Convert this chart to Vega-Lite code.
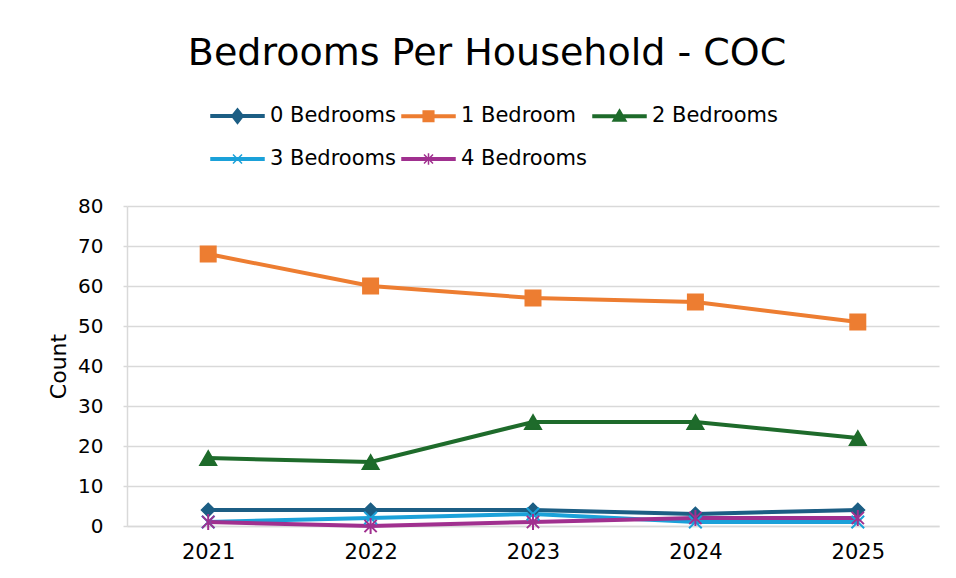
{
  "$schema": "https://vega.github.io/schema/vega-lite/v6.json",
  "width": 812,
  "height": 320,
  "autosize": {"type": "none"},
  "padding": {"left": 127, "top": 206, "right": 17, "bottom": 52},
  "background": "white",
  "title": {
    "text": "Bedrooms Per Household - COC",
    "font": "DejaVu Sans",
    "fontSize": 38,
    "fontWeight": "normal",
    "color": "#000000",
    "anchor": "middle",
    "dx": -46,
    "offset": 16
  },
  "data": {
    "values": [
      {"year": "2021", "series": "0 Bedrooms", "count": 4},
      {"year": "2022", "series": "0 Bedrooms", "count": 4},
      {"year": "2023", "series": "0 Bedrooms", "count": 4},
      {"year": "2024", "series": "0 Bedrooms", "count": 3},
      {"year": "2025", "series": "0 Bedrooms", "count": 4},
      {"year": "2021", "series": "1 Bedroom", "count": 68},
      {"year": "2022", "series": "1 Bedroom", "count": 60},
      {"year": "2023", "series": "1 Bedroom", "count": 57},
      {"year": "2024", "series": "1 Bedroom", "count": 56},
      {"year": "2025", "series": "1 Bedroom", "count": 51},
      {"year": "2021", "series": "2 Bedrooms", "count": 17},
      {"year": "2022", "series": "2 Bedrooms", "count": 16},
      {"year": "2023", "series": "2 Bedrooms", "count": 26},
      {"year": "2024", "series": "2 Bedrooms", "count": 26},
      {"year": "2025", "series": "2 Bedrooms", "count": 22},
      {"year": "2021", "series": "3 Bedrooms", "count": 1},
      {"year": "2022", "series": "3 Bedrooms", "count": 2},
      {"year": "2023", "series": "3 Bedrooms", "count": 3},
      {"year": "2024", "series": "3 Bedrooms", "count": 1},
      {"year": "2025", "series": "3 Bedrooms", "count": 1},
      {"year": "2021", "series": "4 Bedrooms", "count": 1},
      {"year": "2022", "series": "4 Bedrooms", "count": 0},
      {"year": "2023", "series": "4 Bedrooms", "count": 1},
      {"year": "2024", "series": "4 Bedrooms", "count": 2},
      {"year": "2025", "series": "4 Bedrooms", "count": 2}
    ]
  },
  "encoding": {
    "x": {
      "field": "year",
      "type": "ordinal",
      "scale": {"type": "point", "padding": 0.5},
      "axis": {
        "title": null,
        "labelAngle": 0,
        "labelFont": "DejaVu Sans",
        "labelFontSize": 21,
        "labelColor": "#000000",
        "labelPadding": 15,
        "ticks": false,
        "domainColor": "#d9d9d9",
        "domainWidth": 1.5,
        "grid": false
      }
    },
    "y": {
      "field": "count",
      "type": "quantitative",
      "scale": {"domain": [0, 80]},
      "axis": {
        "title": "Count",
        "titleFont": "DejaVu Sans",
        "titleFontSize": 22,
        "titleFontWeight": "normal",
        "titleColor": "#000000",
        "titlePadding": 7,
        "values": [0, 10, 20, 30, 40, 50, 60, 70, 80],
        "labelFont": "DejaVu Sans",
        "labelFontSize": 20,
        "labelColor": "#000000",
        "labelPadding": 20,
        "tickSize": 4,
        "tickColor": "#d9d9d9",
        "tickWidth": 1.5,
        "domainColor": "#d9d9d9",
        "domainWidth": 1.5,
        "gridColor": "#d9d9d9",
        "gridWidth": 1.5
      }
    }
  },
  "layer": [
    {
      "mark": {"type": "line", "strokeWidth": 4},
      "encoding": {
        "color": {
          "field": "series",
          "type": "nominal",
          "scale": {
            "domain": ["0 Bedrooms", "1 Bedroom", "2 Bedrooms", "3 Bedrooms", "4 Bedrooms"],
            "range": ["#1c5e84", "#ed7d31", "#1e6b2b", "#1ba1d9", "#a0308f"]
          },
          "legend": {
            "title": null,
            "orient": "none",
            "legendX": 83,
            "legendY": -117.5,
            "direction": "horizontal",
            "columns": 3,
            "columnPadding": 3,
            "rowPadding": 5,
            "labelFont": "DejaVu Sans",
            "labelFontSize": 21,
            "labelColor": "#000000",
            "labelOffset": 5,
            "symbolSize": 2809,
            "symbolStrokeWidth": 1.5,
            "symbolOpacity": 1
          }
        }
      }
    },
    {
      "transform": [{"filter": "datum.series === '0 Bedrooms'"}],
      "mark": {"type": "point", "filled": true, "opacity": 1, "shape": "diamond", "size": 182, "strokeWidth": 1.5},
      "encoding": {
        "color": {"field": "series", "type": "nominal", "legend": null},
        "stroke": {"field": "series", "type": "nominal", "legend": null, "scale": {"domain": ["0 Bedrooms", "1 Bedroom", "2 Bedrooms", "3 Bedrooms", "4 Bedrooms"], "range": ["#1c5e84", "#ed7d31", "#1e6b2b", "#1ba1d9", "#a0308f"]}}
      }
    },
    {
      "transform": [{"filter": "datum.series === '1 Bedroom'"}],
      "mark": {"type": "point", "filled": true, "opacity": 1, "shape": "square", "size": 240, "strokeWidth": 1.5},
      "encoding": {
        "color": {"field": "series", "type": "nominal", "legend": null},
        "stroke": {"field": "series", "type": "nominal", "legend": null}
      }
    },
    {
      "transform": [{"filter": "datum.series === '2 Bedrooms'"}],
      "mark": {"type": "point", "filled": true, "opacity": 1, "shape": "triangle-up", "size": 280, "strokeWidth": 1.5},
      "encoding": {
        "color": {"field": "series", "type": "nominal", "legend": null},
        "stroke": {"field": "series", "type": "nominal", "legend": null}
      }
    },
    {
      "transform": [{"filter": "datum.series === '3 Bedrooms'"}],
      "mark": {"type": "point", "filled": true, "opacity": 1, "shape": "M-1,-1L1,1M-1,1L1,-1", "size": 160, "strokeWidth": 2},
      "encoding": {
        "color": {"field": "series", "type": "nominal", "legend": null},
        "stroke": {"field": "series", "type": "nominal", "legend": null}
      }
    },
    {
      "transform": [{"filter": "datum.series === '4 Bedrooms'"}],
      "mark": {"type": "point", "filled": true, "opacity": 1, "shape": "M-1,-1L1,1M-1,1L1,-1M0,-1.3L0,1.3", "size": 150, "strokeWidth": 2},
      "encoding": {
        "color": {"field": "series", "type": "nominal", "legend": null},
        "stroke": {"field": "series", "type": "nominal", "legend": null}
      }
    },
    {
      "mark": {"type": "point", "filled": true, "opacity": 0, "strokeWidth": 1.5},
      "encoding": {
        "color": {"field": "series", "type": "nominal", "legend": null},
        "stroke": {"field": "series", "type": "nominal", "legend": null},
        "shape": {
          "field": "series",
          "type": "nominal",
          "legend": null,
          "scale": {
            "domain": ["0 Bedrooms", "1 Bedroom", "2 Bedrooms", "3 Bedrooms", "4 Bedrooms"],
            "range": [
              "M-1,-0.045H1V0.045H-1Z M0,-0.28L0.22,0L0,0.28L-0.22,0Z",
              "M-1,-0.045H1V0.045H-1Z M-0.2,-0.2H0.2V0.2H-0.2Z",
              "M-1,-0.045H1V0.045H-1Z M0,-0.25L0.25,0.18L-0.25,0.18Z",
              "M-1,-0.045H1V0.045H-1Z M-0.17,-0.17L0.17,0.17M-0.17,0.17L0.17,-0.17",
              "M-1,-0.045H1V0.045H-1Z M-0.17,-0.17L0.17,0.17M-0.17,0.17L0.17,-0.17M0,-0.22L0,0.22"
            ]
          }
        }
      }
    }
  ],
  "config": {
    "view": {"stroke": null},
    "font": "DejaVu Sans"
  }
}
